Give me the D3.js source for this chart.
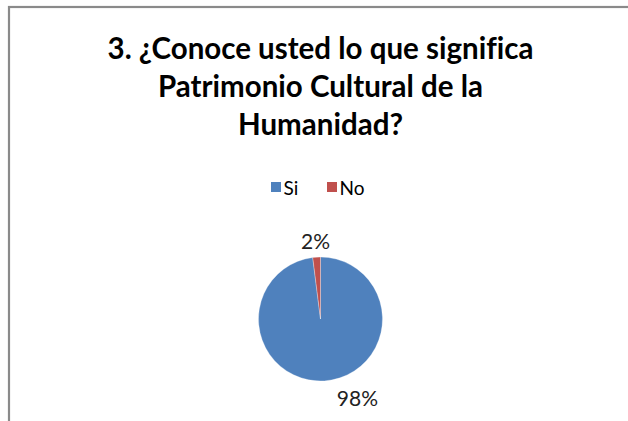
<!DOCTYPE html>
<html><head><meta charset="utf-8">
<script src="https://cdn.jsdelivr.net/npm/d3@7"></script>
<style>html,body{margin:0;padding:0;background:#fff;}svg{display:block;}text{font-variant-ligatures:none;font-feature-settings:"liga" 0;}</style>
</head><body>
<svg id="c" width="628" height="421"></svg>
<script>
const titleLines = ["3. ¿Conoce usted lo que significa", "Patrimonio Cultural de la", "Humanidad?"];
const categories = ["Si", "No"];
const values = [98, 2];
const labels = ["98%", "2%"];
const colors = ["#4F81BD", "#C0504D"];

const W = 628, H = 421;
const svg = d3.select("#c");
const font = "Lato, 'Open Sans', sans-serif";

// frame
svg.append("rect").attr("x", 9).attr("y", 7).attr("width", W + 20).attr("height", H + 20)
  .attr("fill", "#fff").attr("stroke", "#8a8a8a").attr("stroke-width", 2.2);

// title
const titleWidths = [426, 326, 162];
const tl = svg.append("g").selectAll("text").data(titleLines).join("text")
  .attr("x", 320.5).attr("y", (d, i) => 59 + i * 38)
  .attr("text-anchor", "middle").attr("font-family", font).attr("font-weight", "bold")
  .attr("font-size", 24).attr("fill", "#000").text(d => d);
const w0 = tl.nodes()[0].getComputedTextLength();
const fs = 24 * titleWidths[0] / w0;
tl.attr("font-size", fs);

// legend
const leg = svg.append("g");
const legX = [271, 327];
categories.forEach((c, i) => {
  leg.append("rect").attr("x", legX[i]).attr("y", 182).attr("width", 10).attr("height", 10).attr("fill", colors[i]);
  leg.append("text").attr("x", legX[i] + 12.5).attr("y", 194.5).attr("font-family", font)
    .attr("font-size", 19).attr("fill", "#000").text(c);
});

// pie
const cx = 320.5, cy = 319, r = 62;
const pie = d3.pie().sort(null).value(d => d)(values);
const arc = d3.arc().innerRadius(0).outerRadius(r);
const g = svg.append("g").attr("transform", `translate(${cx},${cy})`);
g.selectAll("path").data(pie).join("path").attr("d", arc)
  .attr("fill", (d, i) => colors[i]).attr("stroke", "#fff").attr("stroke-width", 0.3);

// labels
const labArc = d3.arc().innerRadius(r + 16).outerRadius(r + 16);
const offsets = [[32, 2], [0, 0]];
g.selectAll("text").data(pie).join("text")
  .attr("x", (d, i) => labArc.centroid(d)[0] + offsets[i][0])
  .attr("y", (d, i) => labArc.centroid(d)[1] + offsets[i][1])
  .attr("dy", "0.35em").attr("text-anchor", "middle")
  .attr("font-family", font).attr("font-size", 21).attr("fill", "#222")
  .text((d, i) => labels[i]);
</script>
</body></html>
